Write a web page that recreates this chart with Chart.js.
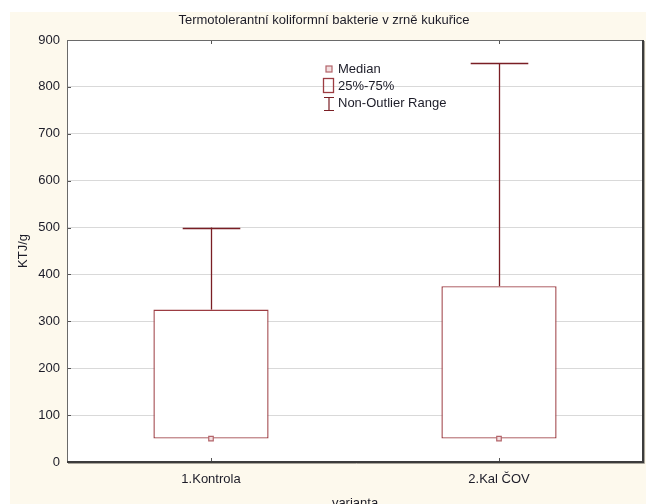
<!DOCTYPE html>
<html>
<head>
<meta charset="utf-8">
<script src="https://cdn.jsdelivr.net/npm/chart.js@4.4.1/dist/chart.umd.min.js"></script>
<style>
  html, body { margin: 0; padding: 0; background: #ffffff; }
  #wrap { width: 646px; height: 504px; position: relative; }
</style>
</head>
<body>
<div id="wrap"><canvas id="c" width="646" height="504"></canvas></div>
<script>
// Box-plot summary per variant (KTJ/g)
const categories = ['1.Kontrola', '2.Kal ČOV'];
const minValues    = [50, 50];
const q1Values     = [50, 50];
const medianValues = [50, 50];
const q3Values     = [325, 375];
const maxValues    = [500, 850];
const yTicks = [0, 100, 200, 300, 400, 500, 600, 700, 800, 900];

const titleText = 'Termotolerantní koliformní bakterie v zrně kukuřice';
const xTitle = 'varianta';
const yTitle = 'KTJ/g';
const legendLabels = ['Median', '25%-75%', 'Non-Outlier Range'];

const FONT = "'Liberation Sans', Arial, sans-serif";
const TEXT = '#1c1c28';
const BOX = '#9c3c42';
const WHISK = '#7a1e24';
const MED_EDGE = '#b3646a';
const MED_FILL = '#f3dfe0';

const boxData = q1Values.map((q1, i) => [q1, q3Values[i]]);

const decor = {
  id: 'decor',
  beforeDraw(chart) {
    const { ctx, chartArea: a } = chart;
    ctx.save();
    ctx.fillStyle = '#ffffff';
    ctx.fillRect(0, 0, chart.width, chart.height);
    ctx.fillStyle = '#fdf9ed';
    ctx.fillRect(10, 12, chart.width - 10, chart.height - 12);
    ctx.fillStyle = '#ffffff';
    ctx.fillRect(a.left, a.top, a.right - a.left, a.bottom - a.top);
    ctx.restore();
  },
  afterDatasetsDraw(chart) {
    const { ctx } = chart;
    const x = chart.scales.x, y = chart.scales.y;
    const catW = x.getPixelForValue(1) - x.getPixelForValue(0);
    const capHalf = catW * 0.1;
    ctx.save();
    ctx.strokeStyle = WHISK;
    ctx.lineWidth = 1.3;
    categories.forEach((c, i) => {
      const cx = Math.round(x.getPixelForValue(i)) + 0.5;
      const pairs = [[q3Values[i], maxValues[i]], [minValues[i], q1Values[i]]];
      pairs.forEach(([from, to]) => {
        if (from === to) return;
        const y0 = y.getPixelForValue(from), y1 = y.getPixelForValue(to);
        ctx.beginPath();
        ctx.moveTo(cx, y0);
        ctx.lineTo(cx, y1);
        ctx.stroke();
      });
      [maxValues[i], minValues[i]].forEach((v, k) => {
        const edge = k === 0 ? q3Values[i] : q1Values[i];
        if (v === edge) return;
        const yy = Math.round(y.getPixelForValue(v)) + 0.5;
        ctx.beginPath();
        ctx.moveTo(cx - capHalf, yy);
        ctx.lineTo(cx + capHalf, yy);
        ctx.stroke();
      });
    });
    ctx.restore();
  },
  afterDraw(chart) {
    const { ctx, chartArea: a } = chart;
    const x = chart.scales.x, y = chart.scales.y;
    ctx.save();
    // small inner ticks
    ctx.strokeStyle = '#555555';
    ctx.lineWidth = 1;
    yTicks.forEach(v => {
      const yy = Math.round(y.getPixelForValue(v)) + 0.5;
      ctx.beginPath();
      ctx.moveTo(a.left, yy);
      ctx.lineTo(a.left + 4, yy);
      ctx.stroke();
    });
    categories.forEach((c, i) => {
      const xx = Math.round(x.getPixelForValue(i)) + 0.5;
      ctx.beginPath();
      ctx.moveTo(xx, a.bottom);
      ctx.lineTo(xx, a.bottom - 4);
      ctx.moveTo(xx, a.top);
      ctx.lineTo(xx, a.top + 4);
      ctx.stroke();
    });
    // frame
    ctx.strokeStyle = '#6a6a6a';
    ctx.lineWidth = 1;
    ctx.strokeRect(a.left + 0.5, a.top + 0.5, a.right - a.left - 1, a.bottom - a.top - 1);
    ctx.strokeStyle = '#3c3c3c';
    ctx.lineWidth = 2;
    ctx.beginPath();
    ctx.moveTo(a.left, a.bottom);
    ctx.lineTo(a.right, a.bottom);
    ctx.lineTo(a.right, a.top);
    ctx.stroke();
    ctx.strokeStyle = '#a9a59b';
    ctx.lineWidth = 1;
    ctx.beginPath();
    ctx.moveTo(a.right + 1.5, a.top + 1);
    ctx.lineTo(a.right + 1.5, a.bottom + 1.5);
    ctx.lineTo(a.left + 1, a.bottom + 1.5);
    ctx.stroke();

    // titles
    ctx.fillStyle = TEXT;
    ctx.font = '13px ' + FONT;
    ctx.textAlign = 'center';
    ctx.textBaseline = 'middle';
    ctx.fillText(titleText, 324, 20);
    ctx.textBaseline = 'top';
    ctx.fillText(xTitle, (a.left + a.right) / 2, 497);
    ctx.save();
    ctx.translate(23, (a.top + a.bottom) / 2);
    ctx.rotate(-Math.PI / 2);
    ctx.textBaseline = 'middle';
    ctx.fillText(yTitle, 0, 0);
    ctx.restore();

    // legend
    const lx = 329, tx = 338;
    const rows = [69, 86, 103];
    ctx.strokeStyle = MED_EDGE;
    ctx.fillStyle = MED_FILL;
    ctx.lineWidth = 1.2;
    ctx.fillRect(lx - 3, rows[0] - 3, 6, 6);
    ctx.strokeRect(lx - 3, rows[0] - 3, 6, 6);
    ctx.strokeStyle = BOX;
    ctx.lineWidth = 1.3;
    ctx.strokeRect(323.5, 78.5, 10, 14);
    ctx.strokeStyle = WHISK;
    ctx.lineWidth = 1.2;
    ctx.beginPath();
    ctx.moveTo(lx, 97); ctx.lineTo(lx, 110);
    ctx.moveTo(lx - 5, 97.5); ctx.lineTo(lx + 5, 97.5);
    ctx.moveTo(lx - 5, 110.5); ctx.lineTo(lx + 5, 110.5);
    ctx.stroke();
    ctx.fillStyle = TEXT;
    ctx.font = '13px ' + FONT;
    ctx.textAlign = 'left';
    ctx.textBaseline = 'middle';
    legendLabels.forEach((t, i) => ctx.fillText(t, tx, rows[i]));
    ctx.restore();
  }
};

new Chart(document.getElementById('c'), {
  data: {
    labels: categories,
    datasets: [
      {
        type: 'bar',
        label: '25%-75%',
        data: boxData,
        backgroundColor: '#ffffff',
        borderColor: BOX,
        borderWidth: 1.4,
        borderSkipped: false,
        categoryPercentage: 1,
        barPercentage: 0.4,
        order: 2
      },
      {
        type: 'line',
        label: 'Median',
        data: medianValues,
        showLine: false,
        pointStyle: 'rect',
        pointRadius: 3.2,
        pointBorderWidth: 1.2,
        pointBorderColor: MED_EDGE,
        pointBackgroundColor: MED_FILL,
        order: 1
      }
    ]
  },
  options: {
    responsive: false,
    animation: false,
    devicePixelRatio: 1,
    layout: { autoPadding: false, padding: { left: 0, top: 40, right: 3, bottom: 0 } },
    plugins: { legend: { display: false }, title: { display: false }, tooltip: { enabled: false } },
    scales: {
      x: {
        type: 'category',
        offset: true,
        grid: { display: false },
        border: { display: false },
        ticks: { color: TEXT, font: { family: FONT, size: 13 }, padding: 2 },
        afterFit(s) { s.height = 42; }
      },
      y: {
        min: 0,
        max: 900,
        afterBuildTicks(s) { s.ticks = yTicks.map(v => ({ value: v })); },
        grid: { color: '#d9d9d9', lineWidth: 1, drawTicks: false },
        border: { display: false },
        ticks: { color: TEXT, font: { family: FONT, size: 13 }, padding: 7 },
        afterFit(s) { s.width = 67; }
      }
    }
  },
  plugins: [decor]
});
</script>
</body>
</html>
